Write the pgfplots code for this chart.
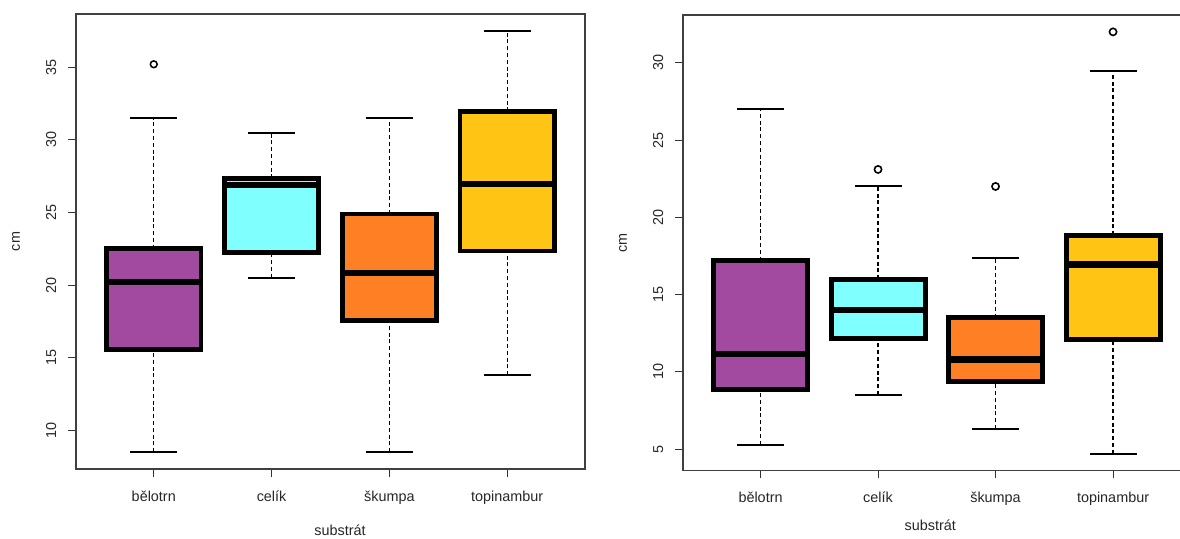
\documentclass[border=0pt]{standalone}
\usepackage{fontspec}
\setmainfont{Liberation Sans}
\usepackage{pgfplots}
\pgfplotsset{compat=1.18}

\definecolor{cpurple}{HTML}{A14A9F}
\definecolor{ccyan}{HTML}{80FFFF}
\definecolor{corange}{HTML}{FF7F24}
\definecolor{cgold}{HTML}{FFC414}

% one R-style box: position, lower whisker, Q1, median, Q3, upper whisker, fill colour
\newcommand{\Rbox}[7]{%
  \pgfmathsetmacro{\xl}{#1-0.4}\pgfmathsetmacro{\xr}{#1+0.4}%
  \pgfmathsetmacro{\cl}{#1-0.2}\pgfmathsetmacro{\cr}{#1+0.2}%
  \addplot[black, line width=\stemw, dash pattern=on 2pt off 1.4pt] coordinates {(#1,#2) (#1,#3)};
  \addplot[black, line width=\stemw, dash pattern=on 2pt off 1.4pt] coordinates {(#1,#5) (#1,#6)};
  \addplot[fill=#7, draw=black, line width=\boxw, line join=miter] coordinates {(\xl,#3) (\xr,#3) (\xr,#5) (\xl,#5)} -- cycle;
  \addplot[black, line width=\medw] coordinates {(\xl,#4) (\xr,#4)};
  \addplot[black, line width=\capw] coordinates {(\cl,#2) (\cr,#2)};
  \addplot[black, line width=\capw] coordinates {(\cl,#6) (\cr,#6)};
}

\pgfplotsset{
  rbox/.style={
    scale only axis,
    axis line style={black!75, line width=0.55pt},
    xmin=0.34, xmax=4.66,
    xtick={1,2,3,4},
    xticklabels={bělotrn, celík, škumpa, topinambur},
    tick pos=left,
    tick align=outside,
    major tick length=3.85pt,
    every tick/.style={black!80, line width=0.55pt},
    /pgf/number format/assume math mode=true,
    tick label style={font=\fontsize{7.2}{8.6}\selectfont, text=black!85, inner sep=0pt},
    yticklabel style={rotate=90, anchor=south, inner xsep=0pt, inner ysep=5.8pt},
    xlabel={substrát},
    ylabel={cm},
    clip=false,
  },
}

\begin{document}
\begin{tikzpicture}
\path[use as bounding box] (0,0) rectangle (590pt,269pt);

% ---------------- left panel ----------------
\begin{axis}[rbox,
  at={(38pt,34.5pt)}, anchor=south west,
  width=254.5pt, height=227.5pt,
  ymin=7.34, ymax=38.66,
  ytick={10,15,20,25,30,35},
  xticklabel style={anchor=base, yshift=-12.4pt},
  every axis y label/.style={at={(axis description cs:-0.1179,0.5)}, rotate=90, anchor=center, font=\fontsize{7.2}{8.6}\selectfont, text=black!85},
  every axis x label/.style={at={(axis description cs:0.5187,0)}, anchor=base, yshift=-33pt, font=\fontsize{7.2}{8.6}\selectfont, text=black!85},
]
\def\stemw{0.5pt}\def\boxw{2.35pt}\def\medw{3pt}\def\capw{1pt}
\Rbox{1}{8.5}{15.55}{20.2}{22.5}{31.5}{cpurple}
\Rbox{2}{20.5}{22.25}{26.9}{27.35}{30.5}{ccyan}
\Rbox{3}{8.5}{17.55}{20.85}{24.9}{31.5}{corange}
\Rbox{4}{13.8}{22.35}{26.95}{31.95}{37.5}{cgold}
\addplot[only marks, mark=o, mark size=1.7pt, mark options={black, line width=0.75pt}]
  coordinates {(1,35.2)};
\end{axis}

% ---------------- right panel ----------------
\begin{axis}[rbox,
  at={(341.5pt,33.65pt)}, anchor=south west,
  width=253.8pt, height=227.85pt,
  ymin=3.608, ymax=33.092,
  ytick={5,10,15,20,25,30},
  xticklabel style={anchor=base, yshift=-12pt},
  every axis y label/.style={at={(axis description cs:-0.1182,0.5)}, rotate=90, anchor=center, font=\fontsize{7.2}{8.6}\selectfont, text=black!85},
  every axis x label/.style={at={(axis description cs:0.487,0)}, anchor=base, yshift=-30pt, font=\fontsize{7.2}{8.6}\selectfont, text=black!85},
]
\def\stemw{0.75pt}\def\boxw{2.5pt}\def\medw{3.2pt}\def\capw{1pt}
\Rbox{1}{5.3}{8.85}{11.15}{17.2}{27}{cpurple}
\Rbox{2}{8.5}{12.15}{14}{16}{22}{ccyan}
\Rbox{3}{6.3}{9.4}{10.8}{13.5}{17.4}{corange}
\Rbox{4}{4.7}{12.1}{16.95}{18.85}{29.5}{cgold}
\addplot[only marks, mark=o, mark size=1.8pt, mark options={black, line width=0.8pt}]
  coordinates {(2,23.1) (3,22) (4,32)};
\end{axis}
\end{tikzpicture}
\end{document}
